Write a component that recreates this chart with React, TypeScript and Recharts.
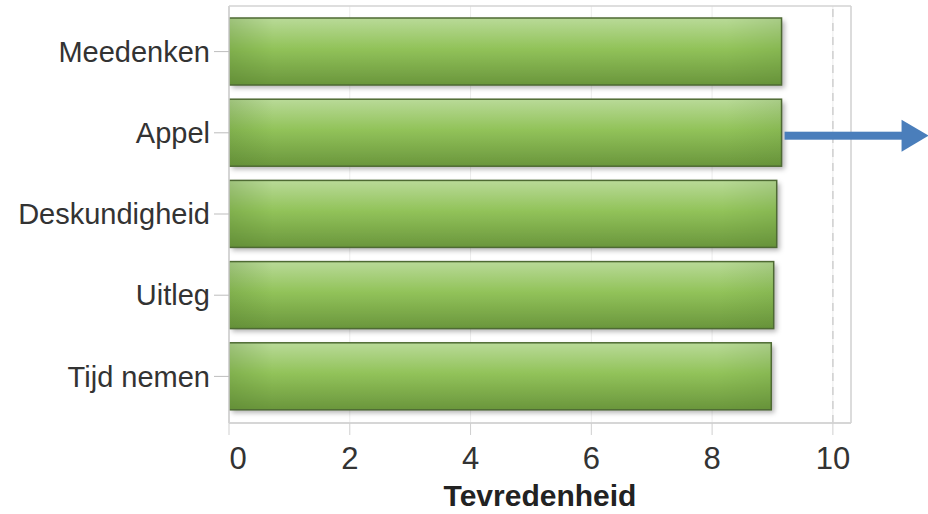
import { BarChart, Bar, XAxis, YAxis, CartesianGrid, ReferenceLine, LabelList } from 'recharts';

const categories = ['Meedenken', 'Appel', 'Deskundigheid', 'Uitleg', 'Tijd nemen'];
const scores = [9.15, 9.15, 9.07, 9.02, 8.98];
const xTicks = [0, 2, 4, 6, 8, 10];
const highlighted = 'Appel';

const data = categories.map((name, i) => ({ name, score: scores[i] }));

const FONT = '"Liberation Sans", Arial, sans-serif';
const TEXT = '#333333';

function XTick(props: any) {
  const { x, y, payload, index } = props;
  // first label sits a little to the right of its tick, as in the original
  const dx = index === 0 ? 9 : 0;
  return (
    <text x={x + dx} y={y + 10} dy="0.72em" textAnchor="middle" fontSize={31} fill={TEXT} fontFamily={FONT}>
      {payload.value}
    </text>
  );
}

function GreenBar(props: any) {
  const { x, y, width, height } = props;
  if (width <= 0) return null;
  return (
    <g>
      <rect x={x} y={y} width={width} height={height} fill="url(#barGrad)" filter="url(#barShadow)" />
      <rect x={x} y={y} width={width} height={height} fill="url(#barSide)" />
      <rect x={x} y={y} width={width} height={height} fill="none" stroke="#4e6a33" strokeWidth={1.5} />
    </g>
  );
}

function Arrow(props: any) {
  const { x, y, width, height, value } = props;
  if (value !== highlighted) return null;
  const x0 = x + width + 3;
  const cy = y + height / 2 + 3;
  const len = 144;
  const head = 27;
  return (
    <g>
      <rect x={x0} y={cy - 4} width={len - head + 2} height={8} fill="#4a7ebb" />
      <polygon points={`${x0 + len - head},${cy - 16} ${x0 + len},${cy} ${x0 + len - head},${cy + 16}`} fill="#4a7ebb" />
    </g>
  );
}

export default function App() {
  return (
    <div style={{ position: 'absolute', left: 0, top: 0 }}>
      <BarChart
        width={928}
        height={514}
        data={data}
        layout="vertical"
        margin={{ top: 6, right: 77, bottom: 0, left: 0 }}
      >
        <defs>
          <linearGradient id="barGrad" x1="0" y1="0" x2="0" y2="1">
            <stop offset="0%" stopColor="#b9da98" />
            <stop offset="45%" stopColor="#92c35a" />
            <stop offset="100%" stopColor="#6a963c" />
          </linearGradient>
          <linearGradient id="barSide" x1="0" y1="0" x2="1" y2="0">
            <stop offset="0%" stopColor="#4f7a2a" stopOpacity={0.25} />
            <stop offset="8%" stopColor="#4f7a2a" stopOpacity={0} />
            <stop offset="90%" stopColor="#4f7a2a" stopOpacity={0} />
            <stop offset="100%" stopColor="#4f7a2a" stopOpacity={0.15} />
          </linearGradient>
          <filter id="barShadow" x="-5%" y="-20%" width="115%" height="150%">
            <feDropShadow dx="3" dy="3" stdDeviation="2.5" floodColor="#000" floodOpacity={0.3} />
          </filter>
        </defs>
        <CartesianGrid horizontal={false} stroke="#ececec" strokeWidth={1} />
        <CartesianGrid
          stroke="#d3d3d3"
          strokeWidth={1.5}
          horizontalCoordinatesGenerator={({ offset }: any) => [offset.top, offset.top + offset.height]}
          verticalCoordinatesGenerator={({ offset }: any) => [offset.left, offset.left + offset.width]}
        />
        <XAxis
          type="number"
          domain={[0, 10.3]}
          ticks={xTicks}
          allowDataOverflow
          height={91}
          tickSize={12}
          tickLine={{ stroke: '#cfcfcf' }}
          axisLine={{ stroke: '#d3d3d3', strokeWidth: 1.5 }}
          tick={<XTick />}
          label={{
            value: 'Tevredenheid',
            position: 'insideBottom',
            offset: 8,
            fontSize: 30,
            fontWeight: 'bold',
            fill: '#222',
            fontFamily: FONT,
          }}
        />
        <YAxis
          type="category"
          dataKey="name"
          width={229}
          tickSize={15}
          tickMargin={4}
          padding={{ top: 5, bottom: 6 }}
          axisLine={{ stroke: '#d3d3d3', strokeWidth: 1.5 }}
          tickLine={{ stroke: '#bdbdbd' }}
          tick={{ fontSize: 29, fill: TEXT, fontFamily: FONT }}
        />
        <ReferenceLine x={10} stroke="#cfcfcf" strokeWidth={1.5} strokeDasharray="8 6" />
        <Bar dataKey="score" barSize={67} shape={<GreenBar />} isAnimationActive={false}>
          <LabelList dataKey="name" content={<Arrow />} />
        </Bar>
      </BarChart>
    </div>
  );
}
